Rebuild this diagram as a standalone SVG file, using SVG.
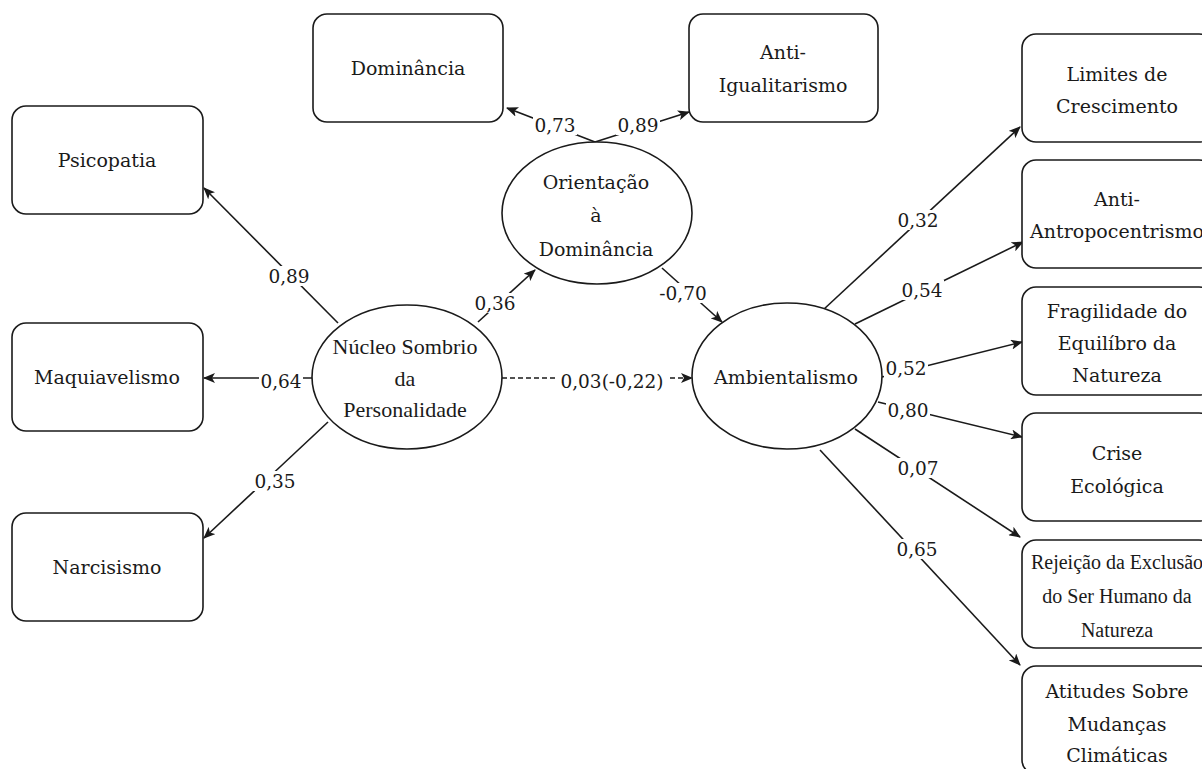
<svg xmlns="http://www.w3.org/2000/svg" width="1202" height="769" viewBox="0 0 1202 769">
<defs>
<style>
.box{fill:#fff;stroke:#1a1a1a;stroke-width:1.6}
.ell{fill:#fff;stroke:#1a1a1a;stroke-width:1.6}
.t{font-family:"DejaVu Serif","Liberation Serif",serif;font-size:19px;fill:#1a1a1a;text-anchor:middle}
.ts{font-family:"Liberation Serif","Times New Roman",serif;font-size:22px;fill:#1a1a1a;text-anchor:middle}
.tx{font-family:"Liberation Serif","Times New Roman",serif;font-size:20px;fill:#1a1a1a;text-anchor:middle}
.edge{stroke:#1a1a1a;stroke-width:1.6;fill:none;marker-end:url(#arr)}
.dash{stroke-dasharray:5 3}
.bg{fill:#fff}
.lbl{font-family:"DejaVu Serif","Liberation Serif",serif;font-size:18.5px;fill:#1a1a1a;text-anchor:middle}
</style>
<marker id="arr" viewBox="0 0 12 10" refX="11" refY="5" markerWidth="12" markerHeight="10" markerUnits="userSpaceOnUse" orient="auto">
<path d="M0,0 L12,5 L0,10 L3,5 z" fill="#1a1a1a"/>
</marker>
</defs>
<rect width="1202" height="769" fill="#fff"/>
<g id="connectors">
<line class="edge" x1="338" y1="323" x2="204" y2="188"/>
<line class="edge" x1="312" y1="378" x2="204" y2="378"/>
<line class="edge" x1="328" y1="422" x2="204" y2="538"/>
<line class="edge" x1="478" y1="322" x2="535" y2="270"/>
<line class="edge" x1="595" y1="142" x2="507" y2="108"/>
<line class="edge" x1="595" y1="142" x2="689" y2="112"/>
<line class="edge" x1="662" y1="268" x2="722" y2="322"/>
<line class="edge dash" x1="502" y1="378" x2="692" y2="378"/>
<line class="edge" x1="823" y1="310" x2="1020" y2="127"/>
<line class="edge" x1="855" y1="324" x2="1023" y2="242"/>
<line class="edge" x1="882" y1="377" x2="1022" y2="342"/>
<line class="edge" x1="878" y1="402" x2="1022" y2="437"/>
<line class="edge" x1="855" y1="429" x2="1020" y2="537"/>
<line class="edge" x1="820" y1="450" x2="1020" y2="665"/>
<rect class="bg" x="267" y="266" width="44" height="20"/><text class="lbl" x="289" y="283">0,89</text>
<rect class="bg" x="259" y="371" width="44" height="20"/><text class="lbl" x="281" y="388">0,64</text>
<rect class="bg" x="253" y="471" width="44" height="20"/><text class="lbl" x="275" y="488">0,35</text>
<rect class="bg" x="473" y="293" width="44" height="20"/><text class="lbl" x="495" y="310">0,36</text>
<rect class="bg" x="533" y="115" width="44" height="20"/><text class="lbl" x="555" y="132">0,73</text>
<rect class="bg" x="616" y="115" width="44" height="20"/><text class="lbl" x="638" y="132">0,89</text>
<rect class="bg" x="657" y="283" width="52" height="20"/><text class="lbl" x="683" y="300">-0,70</text>
<rect class="bg" x="557" y="371" width="110" height="20"/><text class="lbl" x="612" y="388">0,03(-0,22)</text>
<rect class="bg" x="896" y="210" width="44" height="20"/><text class="lbl" x="918" y="227">0,32</text>
<rect class="bg" x="900" y="280" width="44" height="20"/><text class="lbl" x="922" y="297">0,54</text>
<rect class="bg" x="884" y="358" width="44" height="20"/><text class="lbl" x="906" y="375">0,52</text>
<rect class="bg" x="886" y="400" width="44" height="20"/><text class="lbl" x="908" y="417">0,80</text>
<rect class="bg" x="896" y="458" width="44" height="20"/><text class="lbl" x="918" y="475">0,07</text>
<rect class="bg" x="895" y="539" width="44" height="20"/><text class="lbl" x="917" y="556">0,65</text>
</g>

<g id="psicopatia"><rect class="box" x="12" y="106" width="191" height="108" rx="14"/><text class="t" x="107" y="167">Psicopatia</text></g>
<g id="maquiavelismo"><rect class="box" x="12" y="323" width="191" height="108" rx="14"/><text class="t" x="107" y="384">Maquiavelismo</text></g>
<g id="narcisismo"><rect class="box" x="12" y="513" width="191" height="108" rx="14"/><text class="t" x="107" y="574">Narcisismo</text></g>
<g id="dominancia"><rect class="box" x="313" y="14" width="190" height="108" rx="14"/><text class="t" x="408" y="75">Dominância</text></g>
<g id="anti-igualitarismo"><rect class="box" x="689" y="14" width="189" height="108" rx="14"/><text class="t" x="783" y="59">Anti-</text><text class="t" x="783" y="92">Igualitarismo</text></g>

<g id="nucleo"><ellipse class="ell" cx="407" cy="377" rx="95" ry="72"/><text class="ts" x="405" y="354">Núcleo Sombrio</text><text class="ts" x="405" y="386">da</text><text class="ts" x="405" y="417">Personalidade</text></g>
<g id="orientacao"><ellipse class="ell" cx="597" cy="213" rx="95" ry="71"/><text class="t" x="596" y="189">Orientação</text><text class="t" x="596" y="222">à</text><text class="t" x="596" y="256">Dominância</text></g>
<g id="ambientalismo"><ellipse class="ell" cx="787" cy="376" rx="95" ry="73"/><text class="t" x="786" y="384">Ambientalismo</text></g>

<g id="limites"><rect class="box" x="1022" y="34" width="191" height="108" rx="14"/><text class="t" x="1117" y="81">Limites de</text><text class="t" x="1117" y="113">Crescimento</text></g>
<g id="anti-antropocentrismo"><rect class="box" x="1022" y="160" width="191" height="108" rx="14"/><text class="t" x="1117" y="206">Anti-</text><text class="t" x="1117" y="238">Antropocentrismo</text></g>
<g id="fragilidade"><rect class="box" x="1022" y="287" width="191" height="108" rx="14"/><text class="t" x="1117" y="318">Fragilidade do</text><text class="t" x="1117" y="350">Equilíbro da</text><text class="t" x="1117" y="382">Natureza</text></g>
<g id="crise"><rect class="box" x="1022" y="413" width="191" height="108" rx="14"/><text class="t" x="1117" y="460">Crise</text><text class="t" x="1117" y="493">Ecológica</text></g>
<g id="rejeicao"><rect class="box" x="1022" y="540" width="191" height="108" rx="14"/><text class="tx" x="1117" y="569">Rejeição da Exclusão</text><text class="tx" x="1117" y="603">do Ser Humano da</text><text class="tx" x="1117" y="637">Natureza</text></g>
<g id="atitudes"><rect class="box" x="1022" y="666" width="191" height="108" rx="14"/><text class="t" x="1117" y="698">Atitudes Sobre</text><text class="t" x="1117" y="731">Mudanças</text><text class="t" x="1117" y="762">Climáticas</text></g>
</svg>
